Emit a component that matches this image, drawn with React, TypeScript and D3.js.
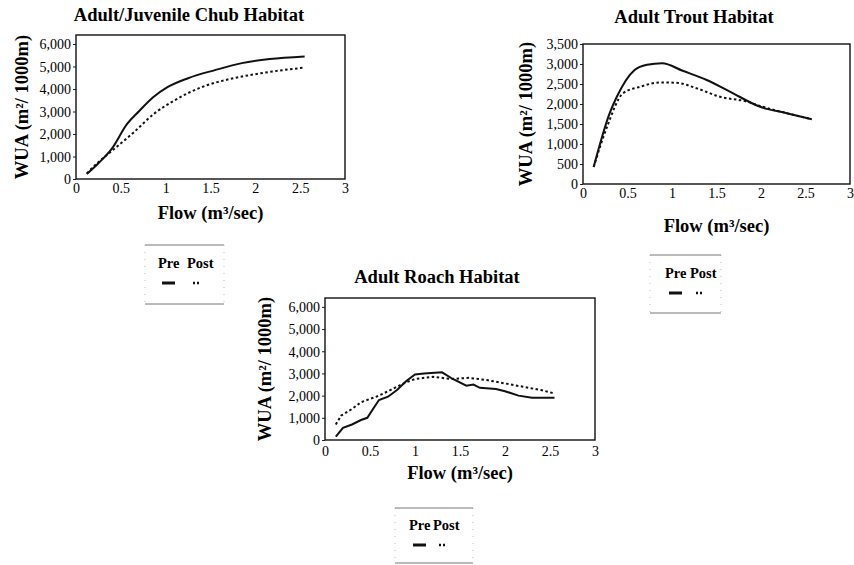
import * as d3 from "d3";
import { useEffect, useRef } from "react";

// flow tick labels shared by all three panels
const flowTicks = [0, 0.5, 1, 1.5, 2, 2.5, 3];
const chubTicks = [0, 1000, 2000, 3000, 4000, 5000, 6000];
const troutTicks = [0, 500, 1000, 1500, 2000, 2500, 3000, 3500];
const roachTicks = [0, 1000, 2000, 3000, 4000, 5000, 6000];

// Adult/Juvenile Chub
const chubPreFlow = [0.12, 0.25, 0.4, 0.57, 0.7, 0.86, 1.02, 1.25, 1.55, 1.85, 2.16, 2.55];
const chubPre = [220, 700, 1350, 2450, 3000, 3630, 4080, 4480, 4840, 5150, 5330, 5450];
const chubPostFlow = [0.12, 0.25, 0.4, 0.64, 0.87, 1.1, 1.4, 1.7, 2.0, 2.39, 2.55];
const chubPost = [250, 750, 1250, 2060, 2900, 3500, 4080, 4430, 4660, 4880, 4950];

// Adult Trout
const troutPreFlow = [0.12, 0.3, 0.38, 0.58, 0.72, 0.89, 1.12, 1.39, 1.65, 1.99, 2.29, 2.57];
const troutPre = [425, 1770, 2180, 2850, 2980, 3020, 2830, 2600, 2310, 1930, 1770, 1620];
const troutPostFlow = [0.12, 0.27, 0.45, 0.64, 0.87, 1.05, 1.28, 1.54, 1.84, 1.99, 2.29, 2.57];
const troutPost = [425, 1430, 2270, 2430, 2540, 2530, 2390, 2180, 2060, 1950, 1770, 1620];

// Adult Roach
const roachPreFlow = [0.12, 0.2, 0.3, 0.4, 0.47, 0.55, 0.6, 0.7, 0.8, 0.9, 1.0, 1.1, 1.3, 1.42, 1.57, 1.65, 1.72, 1.9, 2.0, 2.15, 2.3, 2.55];
const roachPre = [150, 550, 700, 900, 1000, 1500, 1800, 1950, 2250, 2650, 2950, 3000, 3050, 2750, 2450, 2500, 2350, 2300, 2200, 2000, 1900, 1900];
const roachPostFlow = [0.12, 0.18, 0.3, 0.4, 0.5, 0.6, 0.75, 0.9, 1.0, 1.2, 1.4, 1.6, 1.8, 2.0, 2.2, 2.4, 2.55];
const roachPost = [700, 1100, 1400, 1700, 1850, 2000, 2300, 2600, 2750, 2850, 2750, 2800, 2700, 2550, 2400, 2250, 2100];

const serif = "Liberation Serif, Times New Roman, serif";

type Pt = [number, number];

interface PanelProps {
    title: string,
    titleX: number,
    titleY: number,
    left: number,
    right: number,
    top: number,
    bottom: number,
    yMax: number,
    yTicks: number[],
    pre: Pt[],
    post: Pt[],
    smooth: boolean,
    yTitleX: number,
    xTitleY: number,
    tickLabelY: number,
    legend: { x: number, y: number, w: number, h: number, pre: number, post: number, text: number, sym: number }
}

const zip = (xs: number[], ys: number[]): Pt[] => xs.map((x, i) => [x, ys[i]]);

const boldText = (sel: d3.Selection<SVGTextElement, unknown, null, undefined>, size: number) => sel
    .attr("font-family", serif)
    .attr("font-weight", "bold")
    .attr("font-size", size)
    .attr("fill", "#000");

const Panel = (p: PanelProps) => {
    const ref = useRef<SVGGElement>(null);

    useEffect(() => {
        const g = d3.select(ref.current);
        g.selectAll("*").remove();

        const x = d3.scaleLinear().domain([0, 3]).range([p.left, p.right]);
        const y = d3.scaleLinear().domain([0, p.yMax]).range([p.bottom, p.top]);

        boldText(g.append("text"), 18.5)
            .attr("x", p.titleX)
            .attr("y", p.titleY)
            .attr("text-anchor", "middle")
            .text(p.title);

        // y axis
        const ya = g.append("g")
            .attr("transform", `translate(${p.left},0)`)
            .call(d3.axisLeft(y).tickValues(p.yTicks).tickFormat(d3.format(",")).tickSize(3).tickPadding(2));
        ya.attr("font-family", serif).attr("font-size", 14);
        ya.select(".domain").remove();
        ya.selectAll("text").attr("fill", "#000").attr("dy", "0.35em");
        ya.selectAll("line").attr("stroke", "#222");

        // x axis labels
        const xa = g.append("g")
            .attr("transform", `translate(0,${p.bottom})`)
            .call(d3.axisBottom(x).tickValues(flowTicks).tickFormat(d3.format("")).tickSize(0).tickPadding(p.tickLabelY));
        xa.attr("font-family", serif).attr("font-size", 14);
        xa.select(".domain").remove();
        xa.selectAll("text").attr("fill", "#000");

        // frame
        g.append("rect")
            .attr("x", x(0))
            .attr("y", y(p.yMax))
            .attr("width", x(3) - x(0))
            .attr("height", y(0) - y(p.yMax))
            .attr("fill", "none")
            .attr("stroke", "#111")
            .attr("stroke-width", 1.4);

        boldText(g.append("text"), 18.5)
            .attr("transform", `translate(${p.yTitleX},${(p.top + p.bottom) / 2}) rotate(-90)`)
            .attr("text-anchor", "middle")
            .text("WUA (m²/ 1000m)");

        boldText(g.append("text"), 18.5)
            .attr("x", (p.left + p.right) / 2)
            .attr("y", p.xTitleY)
            .attr("text-anchor", "middle")
            .text("Flow (m³/sec)");

        const line = d3.line<Pt>()
            .x(d => x(d[0]))
            .y(d => y(d[1]))
            .curve(p.smooth ? d3.curveMonotoneX : d3.curveLinear);

        g.append("path")
            .datum(p.post)
            .attr("d", line)
            .attr("fill", "none")
            .attr("stroke", "#111")
            .attr("stroke-width", 2)
            .attr("stroke-dasharray", "2.5 2.5");

        g.append("path")
            .datum(p.pre)
            .attr("d", line)
            .attr("fill", "none")
            .attr("stroke", "#111")
            .attr("stroke-width", 2);

        // legend box
        const l = p.legend;
        const lg = g.append("g");
        lg.append("line").attr("x1", l.x).attr("x2", l.x + l.w).attr("y1", l.y).attr("y2", l.y)
            .attr("stroke", "#777").attr("stroke-width", 1);
        lg.append("line").attr("x1", l.x).attr("x2", l.x + l.w).attr("y1", l.y + l.h).attr("y2", l.y + l.h)
            .attr("stroke", "#777").attr("stroke-width", 1);
        [l.x, l.x + l.w].forEach(sx => lg.append("line")
            .attr("x1", sx).attr("x2", sx).attr("y1", l.y).attr("y2", l.y + l.h)
            .attr("stroke", "#aaa").attr("stroke-width", 0.8).attr("stroke-dasharray", "1 6"));
        boldText(lg.append("text"), 14.5).attr("x", l.pre).attr("y", l.text).text("Pre");
        boldText(lg.append("text"), 14.5).attr("x", l.post).attr("y", l.text).text("Post");
        lg.append("line").attr("x1", l.pre + 4).attr("x2", l.pre + 17).attr("y1", l.sym).attr("y2", l.sym)
            .attr("stroke", "#111").attr("stroke-width", 3);
        lg.append("line").attr("x1", l.post + 6).attr("x2", l.post + 12).attr("y1", l.sym).attr("y2", l.sym)
            .attr("stroke", "#111").attr("stroke-width", 2.5).attr("stroke-dasharray", "2 2");
    }, []);

    return <g ref={ref} />;
};

const App = () => (
    <svg width={854} height={565} style={{ position: "absolute", left: 0, top: 0, background: "#fff" }}>
        <Panel title="Adult/Juvenile Chub Habitat" titleX={189} titleY={21}
            left={76} right={345} top={35} bottom={179} yMax={6400} yTicks={chubTicks}
            pre={zip(chubPreFlow, chubPre)} post={zip(chubPostFlow, chubPost)} smooth={true}
            yTitleX={28} xTitleY={219} tickLabelY={4}
            legend={{ x: 145, y: 245, w: 79, h: 59, pre: 158, post: 187, text: 268, sym: 283 }} />
        <Panel title="Adult Trout Habitat" titleX={694} titleY={23}
            left={583} right={850} top={44} bottom={184} yMax={3500} yTicks={troutTicks}
            pre={zip(troutPreFlow, troutPre)} post={zip(troutPostFlow, troutPost)} smooth={true}
            yTitleX={532} xTitleY={232} tickLabelY={4}
            legend={{ x: 650, y: 255, w: 71, h: 58, pre: 665, post: 690, text: 278, sym: 293 }} />
        <Panel title="Adult Roach Habitat" titleX={437} titleY={283}
            left={325} right={595} top={298} bottom={440} yMax={6400} yTicks={roachTicks}
            pre={zip(roachPreFlow, roachPre)} post={zip(roachPostFlow, roachPost)} smooth={false}
            yTitleX={271} xTitleY={479} tickLabelY={6}
            legend={{ x: 395, y: 508, w: 78, h: 55, pre: 409, post: 433, text: 530, sym: 545 }} />
    </svg>
);

export default App;
